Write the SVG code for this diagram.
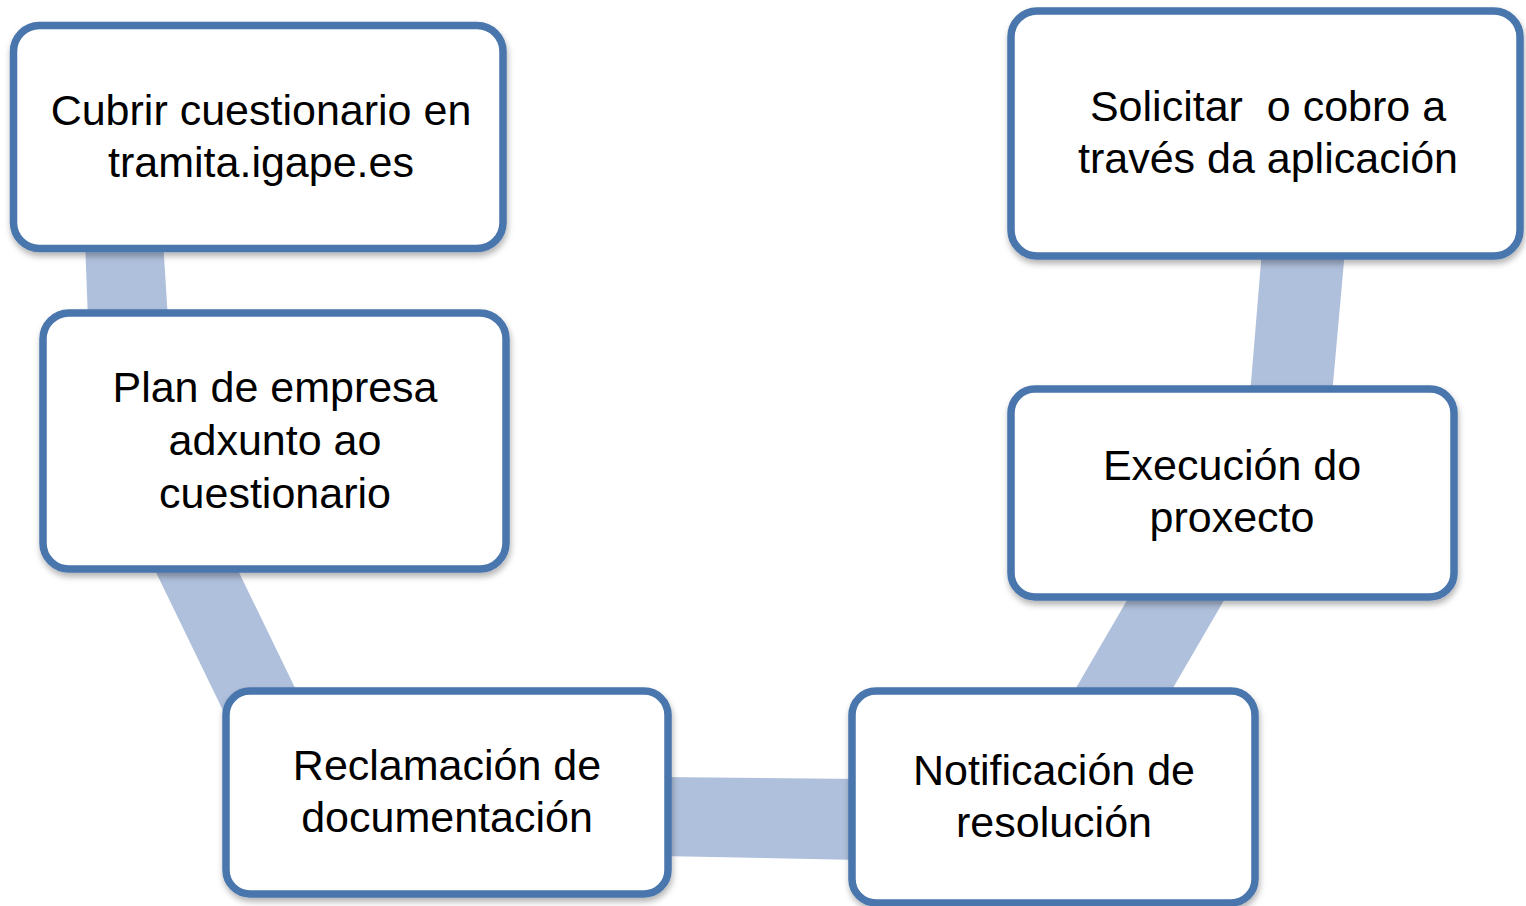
<svg xmlns="http://www.w3.org/2000/svg" width="1526" height="906" viewBox="0 0 1526 906">
<style>
.box{fill:#ffffff;stroke:#4A76AC;stroke-width:7.5;filter:url(#sh)}
.con{fill:#AFC0DC}
.t{font-family:"Liberation Sans",Arial,sans-serif;font-size:43px;fill:#000;text-anchor:middle}
</style>
<defs>
<filter id="sh" x="-10%" y="-10%" width="120%" height="130%">
<feDropShadow dx="1" dy="4" stdDeviation="3" flood-color="#000" flood-opacity="0.3"/>
</filter>
</defs>
<rect width="1526" height="906" fill="#ffffff"/>
<g id="connectors">
<polygon class="con" points="85,240 163,240 168,320 88,320"/>
<polygon class="con" points="150,560 233,560 330,760 247,760"/>
<polygon class="con" points="660,777 860,779 860,860 660,856"/>
<polygon class="con" points="1133,590 1230,590 1166,700 1069,700"/>
<polygon class="con" points="1262,250 1345,250 1332,395 1250,395"/>
</g>
<g id="n1">
<rect class="box" x="13.5" y="25.5" width="489.5" height="223" rx="26"/>
<text class="t" x="261" y="125">Cubrir cuestionario en</text>
<text class="t" x="261" y="177">tramita.igape.es</text>
</g>
<g id="n2">
<rect class="box" x="43" y="313" width="463" height="256" rx="26"/>
<text class="t" x="275" y="402">Plan de empresa</text>
<text class="t" x="275" y="455">adxunto ao</text>
<text class="t" x="275" y="508">cuestionario</text>
</g>
<g id="n3">
<rect class="box" x="226" y="691" width="442" height="203" rx="24"/>
<text class="t" x="447" y="780">Reclamación de</text>
<text class="t" x="447" y="832">documentación</text>
</g>
<g id="n4">
<rect class="box" x="852" y="691" width="403" height="212" rx="24"/>
<text class="t" x="1054" y="785">Notificación de</text>
<text class="t" x="1054" y="837">resolución</text>
</g>
<g id="n5">
<rect class="box" x="1011" y="389" width="443" height="208" rx="24"/>
<text class="t" x="1232" y="480">Execución do</text>
<text class="t" x="1232" y="532">proxecto</text>
</g>
<g id="n6">
<rect class="box" x="1011" y="11" width="509" height="245" rx="26"/>
<text class="t" x="1268" y="121" xml:space="preserve" style="white-space:pre">Solicitar  o cobro a</text>
<text class="t" x="1268" y="173">través da aplicación</text>
</g>
</svg>
